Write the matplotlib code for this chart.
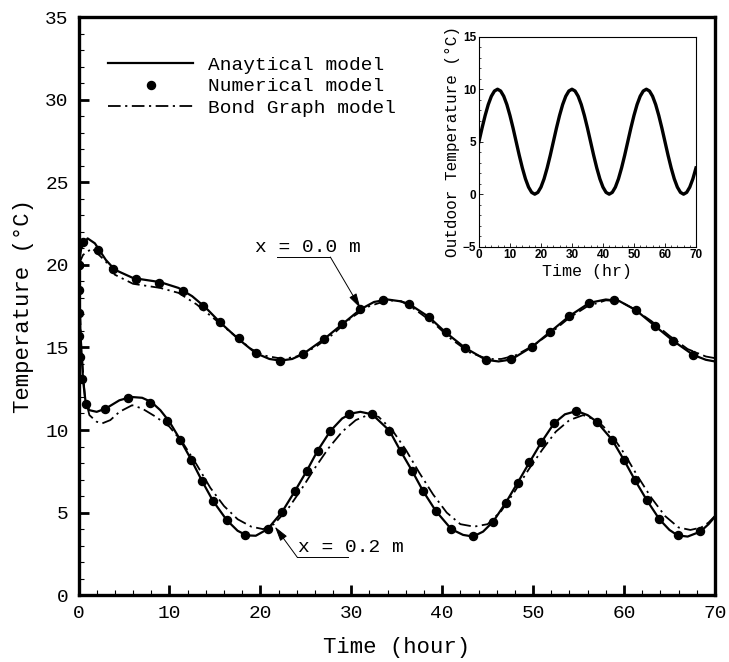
import matplotlib
matplotlib.use("Agg")
import matplotlib.pyplot as plt
from matplotlib.ticker import MultipleLocator

# x = 0.0 m, analytical model
ana0_t = [0, 0.3, 1.0, 1.8, 3, 4, 6, 9, 11, 12.5, 14, 15.6, 17.6, 19.5, 21, 22.2,
          23.5, 24.7, 27, 29, 31, 32.5, 34, 35.3, 36.3, 38.5, 40.4, 42.5, 44.8,
          46.2, 47.6, 49.9, 51.9, 54, 56.2, 58, 59.5, 61.3, 63.4, 65.4, 67.6, 69, 70]
ana0_T = [20.0, 21.0, 21.6, 21.3, 20.3, 19.7, 19.2, 18.95, 18.6, 18.1, 17.4, 16.5,
          15.5, 14.65, 14.3, 14.2, 14.3, 14.6, 15.5, 16.4, 17.3, 17.75, 17.9, 17.8,
          17.65, 16.86, 15.9, 14.98, 14.25, 14.15, 14.27, 15.04, 15.95, 16.9, 17.7,
          17.9, 17.8, 17.26, 16.3, 15.4, 14.55, 14.25, 14.15]

# x = 0.0 m, bond graph model
bg0_t = [0, 0.5, 1.5, 3, 4, 6, 9, 11, 13, 15, 17, 19, 20.5, 22.5, 24, 26, 28, 30,
         32, 34, 35.5, 37, 39, 41, 43, 45, 46.5, 48, 50, 52, 54, 56, 58, 59.5, 61,
         63, 65, 67, 69, 70]
bg0_T = [20.0, 20.6, 21.0, 20.2, 19.4, 18.85, 18.6, 18.3, 17.6, 16.7, 15.8, 14.9,
         14.5, 14.3, 14.45, 15.0, 15.8, 16.8, 17.5, 17.85, 17.8, 17.3, 16.5, 15.5,
         14.7, 14.3, 14.3, 14.5, 15.1, 15.9, 16.8, 17.5, 17.85, 17.8, 17.35, 16.6,
         15.7, 14.9, 14.45, 14.35]

# x = 0.0 m, numerical model
num0_t = [0, 0.53, 2.18, 3.76, 6.29, 8.9, 11.5, 13.7, 15.6, 17.6, 19.5, 22.2, 24.7,
          27.0, 29.0, 31.0, 33.5, 36.3, 38.5, 40.4, 42.5, 44.8, 47.6, 49.9, 51.9,
          54.0, 56.2, 58.9, 61.3, 63.4, 65.4, 67.6]
num0_T = [20.0, 21.4, 20.9, 19.75, 19.14, 18.92, 18.41, 17.52, 16.52, 15.55, 14.64,
          14.18, 14.6, 15.49, 16.4, 17.32, 17.9, 17.65, 16.86, 15.91, 14.98, 14.24,
          14.28, 15.04, 15.95, 16.9, 17.7, 17.87, 17.26, 16.31, 15.4, 14.54]

# x = 0.2 m, analytical model
ana2_t = [0, 0.2, 0.5, 0.8, 1.2, 2, 3, 4.5, 5.8, 7, 8, 9, 10, 11.2, 12.4, 13.6, 14.8,
          16.3, 17.5, 18.5, 19.5, 20.8, 22.4, 23.8, 25.1, 26.3, 27.7, 29, 30, 31,
          32.3, 34.2, 35.4, 36.7, 37.9, 39.3, 41, 42.3, 43.4, 44.5, 45.6, 47, 48.3,
          49.6, 50.9, 52.3, 53.5, 54.8, 56, 57, 58.7, 60, 61.2, 62.5, 63.9, 65,
          65.9, 67, 68.4, 69.3, 70]
ana2_T = [20.0, 16.0, 13.0, 11.6, 11.2, 11.1, 11.3, 11.8, 12.0, 11.95, 11.7, 11.2,
          10.5, 9.4, 8.2, 6.9, 5.7, 4.55, 3.9, 3.62, 3.6, 4.0, 5.05, 6.3, 7.52, 8.75,
          9.94, 10.7, 11.0, 11.1, 10.95, 9.96, 8.75, 7.52, 6.3, 5.1, 4.0, 3.65, 3.55,
          3.85, 4.45, 5.6, 6.81, 8.04, 9.25, 10.4, 10.95, 11.15, 10.9, 10.5, 9.4,
          8.18, 6.97, 5.76, 4.59, 3.95, 3.62, 3.55, 3.85, 4.3, 4.75]

# x = 0.2 m, bond graph model
bg2_t = [0, 0.3, 0.7, 1.2, 2, 2.6, 3.5, 4.5, 5.9, 7, 8.5, 10, 11.5, 13, 14.5, 16,
         17.5, 19, 20.3, 21.5, 23, 24.5, 26, 27.5, 29, 30.5, 31.8, 33, 34.5, 36,
         37.5, 39, 40.5, 42, 43.5, 45, 46.5, 48, 49.5, 51, 52.5, 54, 55.5, 57, 58.5,
         60, 61.5, 63, 64.5, 66, 67.3, 68.5, 69.3, 70]
bg2_T = [20.0, 15.0, 12.0, 10.9, 10.5, 10.4, 10.6, 11.1, 11.5, 11.3, 10.8, 10.2,
         9.2, 7.9, 6.5, 5.4, 4.6, 4.15, 4.0, 4.3, 5.2, 6.4, 7.7, 8.9, 9.9, 10.6,
         10.9, 10.8, 10.0, 8.8, 7.4, 6.1, 5.0, 4.3, 4.15, 4.3, 5.1, 6.3, 7.6, 8.8,
         9.9, 10.6, 10.9, 10.6, 9.8, 8.6, 7.2, 5.9, 4.8, 4.1, 3.95, 4.1, 4.4, 4.8]

# x = 0.2 m, numerical model
num2_t = [0, 0.03, 0.06, 0.1, 0.15, 0.4, 0.83, 2.9, 5.4, 7.87, 9.77, 11.17, 12.38,
          13.55, 14.76, 16.3, 18.3, 20.8, 22.4, 23.8, 25.1, 26.3, 27.7, 29.7, 32.25,
          34.2, 35.5, 36.7, 37.9, 39.3, 41.0, 43.4, 45.6, 47.0, 48.3, 49.6, 50.9,
          52.3, 54.7, 57.0, 58.7, 60.0, 61.2, 62.5, 63.9, 65.9, 68.4]
num2_T = [20.0, 18.5, 17.1, 15.7, 14.4, 13.06, 11.57, 11.25, 11.96, 11.65, 10.56,
          9.38, 8.17, 6.93, 5.72, 4.55, 3.64, 4.0, 5.05, 6.3, 7.52, 8.75, 9.94,
          10.95, 10.95, 9.96, 8.75, 7.52, 6.3, 5.1, 4.0, 3.58, 4.45, 5.6, 6.81,
          8.04, 9.25, 10.4, 11.15, 10.5, 9.4, 8.18, 6.97, 5.76, 4.59, 3.64, 3.9]

# outdoor temperature (inset), read every hour
out_t = list(range(0, 71))
out_T = [5.0, 6.3, 7.5, 8.54, 9.33, 9.83, 10.0, 9.83, 9.33, 8.54, 7.5, 6.3,
         5.0, 3.7, 2.5, 1.46, 0.67, 0.17, 0.0, 0.17, 0.67, 1.46, 2.5, 3.7,
         5.0, 6.3, 7.5, 8.54, 9.33, 9.83, 10.0, 9.83, 9.33, 8.54, 7.5, 6.3,
         5.0, 3.7, 2.5, 1.46, 0.67, 0.17, 0.0, 0.17, 0.67, 1.46, 2.5, 3.7,
         5.0, 6.3, 7.5, 8.54, 9.33, 9.83, 10.0, 9.83, 9.33, 8.54, 7.5, 6.3,
         5.0, 3.7, 2.5, 1.46, 0.67, 0.17, 0.0, 0.17, 0.67, 1.46, 2.5]

mono = "Liberation Mono"
dashdot = (0, (7, 2.5, 1.2, 2.5))

fig = plt.figure(figsize=(7.29, 6.62), dpi=100)
ax = fig.add_axes([0.1077, 0.1009, 0.873, 0.8734])

ax.plot(ana0_t, ana0_T, color="k", lw=1.6, label="Anaytical model")
ax.plot(ana2_t, ana2_T, color="k", lw=1.6)
ax.plot(num0_t, num0_T, "o", color="k", ms=5.8, label="Numerical model")
ax.plot(num2_t, num2_T, "o", color="k", ms=5.8)
ax.plot(bg0_t, bg0_T, color="k", lw=1.3, linestyle=dashdot, label="Bond Graph model")
ax.plot(bg2_t, bg2_T, color="k", lw=1.3, linestyle=dashdot)

ax.set_xlim(0, 70)
ax.set_ylim(0, 35)
ax.xaxis.set_major_locator(MultipleLocator(10))
ax.xaxis.set_minor_locator(MultipleLocator(2))
ax.yaxis.set_major_locator(MultipleLocator(5))
ax.yaxis.set_minor_locator(MultipleLocator(1))
ax.tick_params(which="major", direction="in", length=7, width=2, pad=7,
               top=False, right=False, labelsize=14)
ax.tick_params(which="minor", direction="in", length=3.5, width=0.8,
               top=False, right=False)
for lab in ax.get_xticklabels() + ax.get_yticklabels():
    lab.set_family(mono)
for sp in ax.spines.values():
    sp.set_linewidth(2.4)

ax.set_xlabel("Time (hour)", family=mono, fontsize=16, labelpad=11)
ax.set_ylabel("Temperature (°C)", family=mono, fontsize=16, labelpad=8)

leg = ax.legend(loc="upper left", bbox_to_anchor=(0.046, 0.932), frameon=False,
                prop={"family": mono, "size": 14}, handlelength=4.4,
                handletextpad=0.75, labelspacing=0.2, borderpad=0,
                borderaxespad=0, numpoints=1)

# annotations
ax.text(19.4, 21.05, "x = 0.0 m", family=mono, fontsize=14, va="center")
ax.plot([21.8, 27.7], [20.47, 20.47], color="k", lw=0.7)
ax.annotate("", xy=(31.0, 17.38), xytext=(27.7, 20.47),
            arrowprops=dict(arrowstyle="-|>,head_length=0.9,head_width=0.25",
                            color="k", lw=0.7, shrinkA=0, shrinkB=0))
ax.text(24.1, 2.88, "x = 0.2 m", family=mono, fontsize=14, va="center")
ax.plot([24.07, 29.65], [2.29, 2.29], color="k", lw=0.7)
ax.annotate("", xy=(21.6, 4.15), xytext=(24.07, 2.29),
            arrowprops=dict(arrowstyle="-|>,head_length=0.9,head_width=0.25",
                            color="k", lw=0.7, shrinkA=0, shrinkB=0))

# inset
ins = fig.add_axes([0.657, 0.6274, 0.2977, 0.3171])
ins.set_facecolor("white")
ins.plot(out_t, out_T, color="k", lw=2.4)
ins.set_xlim(0, 70)
ins.set_ylim(-5, 15)
ins.xaxis.set_major_locator(MultipleLocator(10))
ins.xaxis.set_minor_locator(MultipleLocator(2))
ins.yaxis.set_major_locator(MultipleLocator(5))
ins.yaxis.set_minor_locator(MultipleLocator(1))
ins.tick_params(which="major", direction="in", length=3, width=0.6, pad=2,
                top=False, right=False, labelsize=8.5)
ins.tick_params(which="minor", direction="in", length=1.5, width=0.5,
                top=False, right=False)
for lab in ins.get_xticklabels() + ins.get_yticklabels():
    lab.set_family("Liberation Sans")
    lab.set_fontweight("bold")
for sp in ins.spines.values():
    sp.set_linewidth(0.8)
ins.set_xlabel("Time (hr)", family=mono, fontsize=12, labelpad=2)
ins.set_ylabel("Outdoor Temperature (°C)", family=mono, fontsize=11.5, labelpad=2)

fig.savefig("out.png", dpi=100)
